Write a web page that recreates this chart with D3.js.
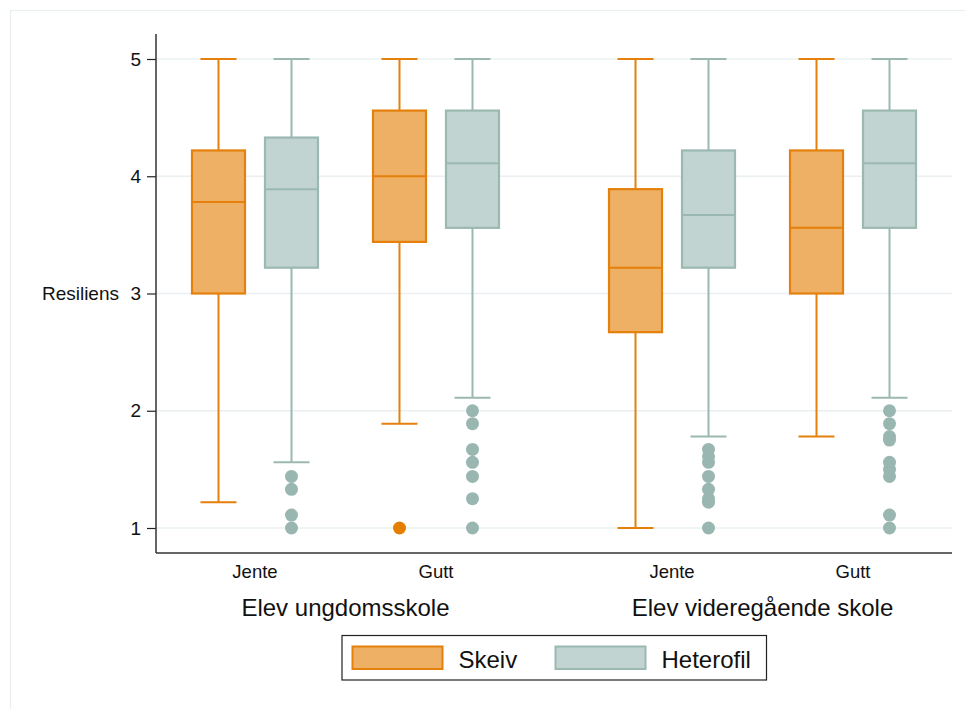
<!DOCTYPE html>
<html><head><meta charset="utf-8">
<script src="https://cdn.jsdelivr.net/npm/d3@7"></script>
<style>body{margin:0;background:#fff;}svg{display:block;font-family:"Liberation Sans",Arial,Helvetica,sans-serif;}</style>
</head><body>
<svg id="c" width="965" height="709"></svg>
<script>
// ---- data ----
const groups = ["Elev ungdomsskole", "Elev videregående skole"];
const subgroups = ["Jente", "Gutt"];
const series = ["Skeiv", "Heterofil"];
const yTicks = [1, 2, 3, 4, 5];
// [lowWhisker, q1, median, q3, highWhisker] per group/subgroup/series
const statsSkeiv = [
  [1.22, 3.00, 3.78, 4.22, 5],  // ungdom Jente
  [1.89, 3.44, 4.00, 4.56, 5],  // ungdom Gutt
  [1.00, 2.67, 3.22, 3.89, 5],  // vgs Jente
  [1.78, 3.00, 3.56, 4.22, 5]   // vgs Gutt
];
const statsHetero = [
  [1.56, 3.22, 3.89, 4.33, 5],
  [2.11, 3.56, 4.11, 4.56, 5],
  [1.78, 3.22, 3.67, 4.22, 5],
  [2.11, 3.56, 4.11, 4.56, 5]
];
const outSkeiv = [[], [1.00], [], []];
const outHetero = [
  [1.44, 1.33, 1.11, 1.00],
  [2.00, 1.89, 1.67, 1.56, 1.44, 1.25, 1.00],
  [1.67, 1.61, 1.56, 1.44, 1.33, 1.25, 1.22, 1.00],
  [2.00, 1.89, 1.78, 1.75, 1.56, 1.50, 1.44, 1.11, 1.00]
];

const colors = {
  Skeiv: {stroke: "#E4800B", fill: "#EDB064"},
  Heterofil: {stroke: "#9BB8B1", fill: "#C1D4D2"}
};

const svg = d3.select("#c");
const L = 156, R = 952, T = 34, B = 553;

// outer frame
svg.append("rect").attr("x", 10.5).attr("y", 10.5).attr("width", 1000).attr("height", 1000)
  .attr("fill", "none").attr("stroke", "#EAF0F2").attr("stroke-width", 1.2);

const y = d3.scaleLinear().domain([1, 5]).range([528, 59]);
const xg = d3.scalePoint().domain(groups).range([L, R]).padding(0.4544);
const xs = d3.scalePoint().domain(subgroups).range([-90.5, 90.5]);
const xr = d3.scalePoint().domain(series).range([-36.5, 36.5]);
const boxW = 53, capW = 36;

// grid
svg.append("g").selectAll("line").data(yTicks).join("line")
  .attr("x1", L).attr("x2", R).attr("y1", d => y(d)).attr("y2", d => y(d))
  .attr("stroke", "#EAF0F2").attr("stroke-width", 1.5);

// y axis
const yAxis = d3.axisLeft(y).tickValues(yTicks).tickSize(9).tickPadding(6).tickFormat(d3.format("d"));
const ga = svg.append("g").attr("transform", `translate(${L},0)`).call(yAxis);
ga.select(".domain").remove();
ga.selectAll(".tick line").attr("stroke", "#222").attr("stroke-width", 1.2);
ga.selectAll(".tick text").attr("font-size", 19).attr("fill", "#111").attr("font-family", "Liberation Sans, Arial, sans-serif");
svg.append("line").attr("x1", L).attr("x2", L).attr("y1", T).attr("y2", B).attr("stroke", "#333").attr("stroke-width", 1.5);
svg.append("line").attr("x1", L).attr("x2", R).attr("y1", B).attr("y2", B).attr("stroke", "#333").attr("stroke-width", 1.5);

svg.append("text").attr("x", 119).attr("y", y(3)).attr("dy", "0.35em").attr("text-anchor", "end")
  .attr("font-size", 19).attr("fill", "#111").text("Resiliens");

// build records
const recs = [];
groups.forEach((g, gi) => subgroups.forEach((s, si) => {
  const k = gi * 2 + si;
  recs.push({g, s, ser: "Skeiv", st: statsSkeiv[k], out: outSkeiv[k]});
  recs.push({g, s, ser: "Heterofil", st: statsHetero[k], out: outHetero[k]});
}));
const cx = d => xg(d.g) + xs(d.s) + xr(d.ser);

const bx = svg.append("g").selectAll("g").data(recs).join("g");
// whiskers
bx.append("line").attr("x1", cx).attr("x2", cx).attr("y1", d => y(d.st[3])).attr("y2", d => y(d.st[4]))
  .attr("stroke", d => colors[d.ser].stroke).attr("stroke-width", 2);
bx.append("line").attr("x1", cx).attr("x2", cx).attr("y1", d => y(d.st[0])).attr("y2", d => y(d.st[1]))
  .attr("stroke", d => colors[d.ser].stroke).attr("stroke-width", 2);
[0, 4].forEach(i => bx.append("line")
  .attr("x1", d => cx(d) - capW / 2).attr("x2", d => cx(d) + capW / 2)
  .attr("y1", d => y(d.st[i])).attr("y2", d => y(d.st[i]))
  .attr("stroke", d => colors[d.ser].stroke).attr("stroke-width", 2));
// boxes
bx.append("rect").attr("x", d => cx(d) - boxW / 2).attr("width", boxW)
  .attr("y", d => y(d.st[3])).attr("height", d => y(d.st[1]) - y(d.st[3]))
  .attr("fill", d => colors[d.ser].fill).attr("stroke", d => colors[d.ser].stroke).attr("stroke-width", 2.2);
bx.append("line").attr("x1", d => cx(d) - boxW / 2).attr("x2", d => cx(d) + boxW / 2)
  .attr("y1", d => y(d.st[2])).attr("y2", d => y(d.st[2]))
  .attr("stroke", d => colors[d.ser].stroke).attr("stroke-width", 2);
// outliers
bx.each(function(d) {
  d3.select(this).selectAll("circle").data(d.out).join("circle")
    .attr("cx", cx(d)).attr("cy", v => y(v)).attr("r", 6.5)
    .attr("fill", d.ser === "Skeiv" ? "#E67E00" : "#99B7B0");
});

// x labels
const xl = [];
groups.forEach(g => subgroups.forEach(s => xl.push({g, s})));
svg.append("g").selectAll("text").data(xl).join("text")
  .attr("x", d => xg(d.g) + xs(d.s)).attr("y", 578).attr("text-anchor", "middle")
  .attr("font-size", 18.5).attr("fill", "#111").text(d => d.s);
svg.append("g").selectAll("text").data(groups).join("text")
  .attr("x", d => xg(d)).attr("y", 615.5).attr("text-anchor", "middle")
  .attr("font-size", 24).attr("fill", "#111").text(d => d);

// legend
const lg = svg.append("g");
lg.append("rect").attr("x", 342).attr("y", 635.5).attr("width", 424.5).attr("height", 44.5)
  .attr("fill", "#fff").attr("stroke", "#222").attr("stroke-width", 1.2);
const lx = d3.scalePoint().domain(series).range([352.5, 555.5]);
lg.selectAll("rect.sw").data(series).join("rect").attr("class", "sw")
  .attr("x", d => lx(d)).attr("y", 646.5).attr("width", 90).attr("height", 22.5)
  .attr("fill", d => colors[d].fill).attr("stroke", d => colors[d].stroke).attr("stroke-width", 2);
lg.selectAll("text").data(series).join("text")
  .attr("x", d => lx(d) + 106).attr("y", 668).attr("font-size", 24).attr("fill", "#111").text(d => d);
</script>
</body></html>
